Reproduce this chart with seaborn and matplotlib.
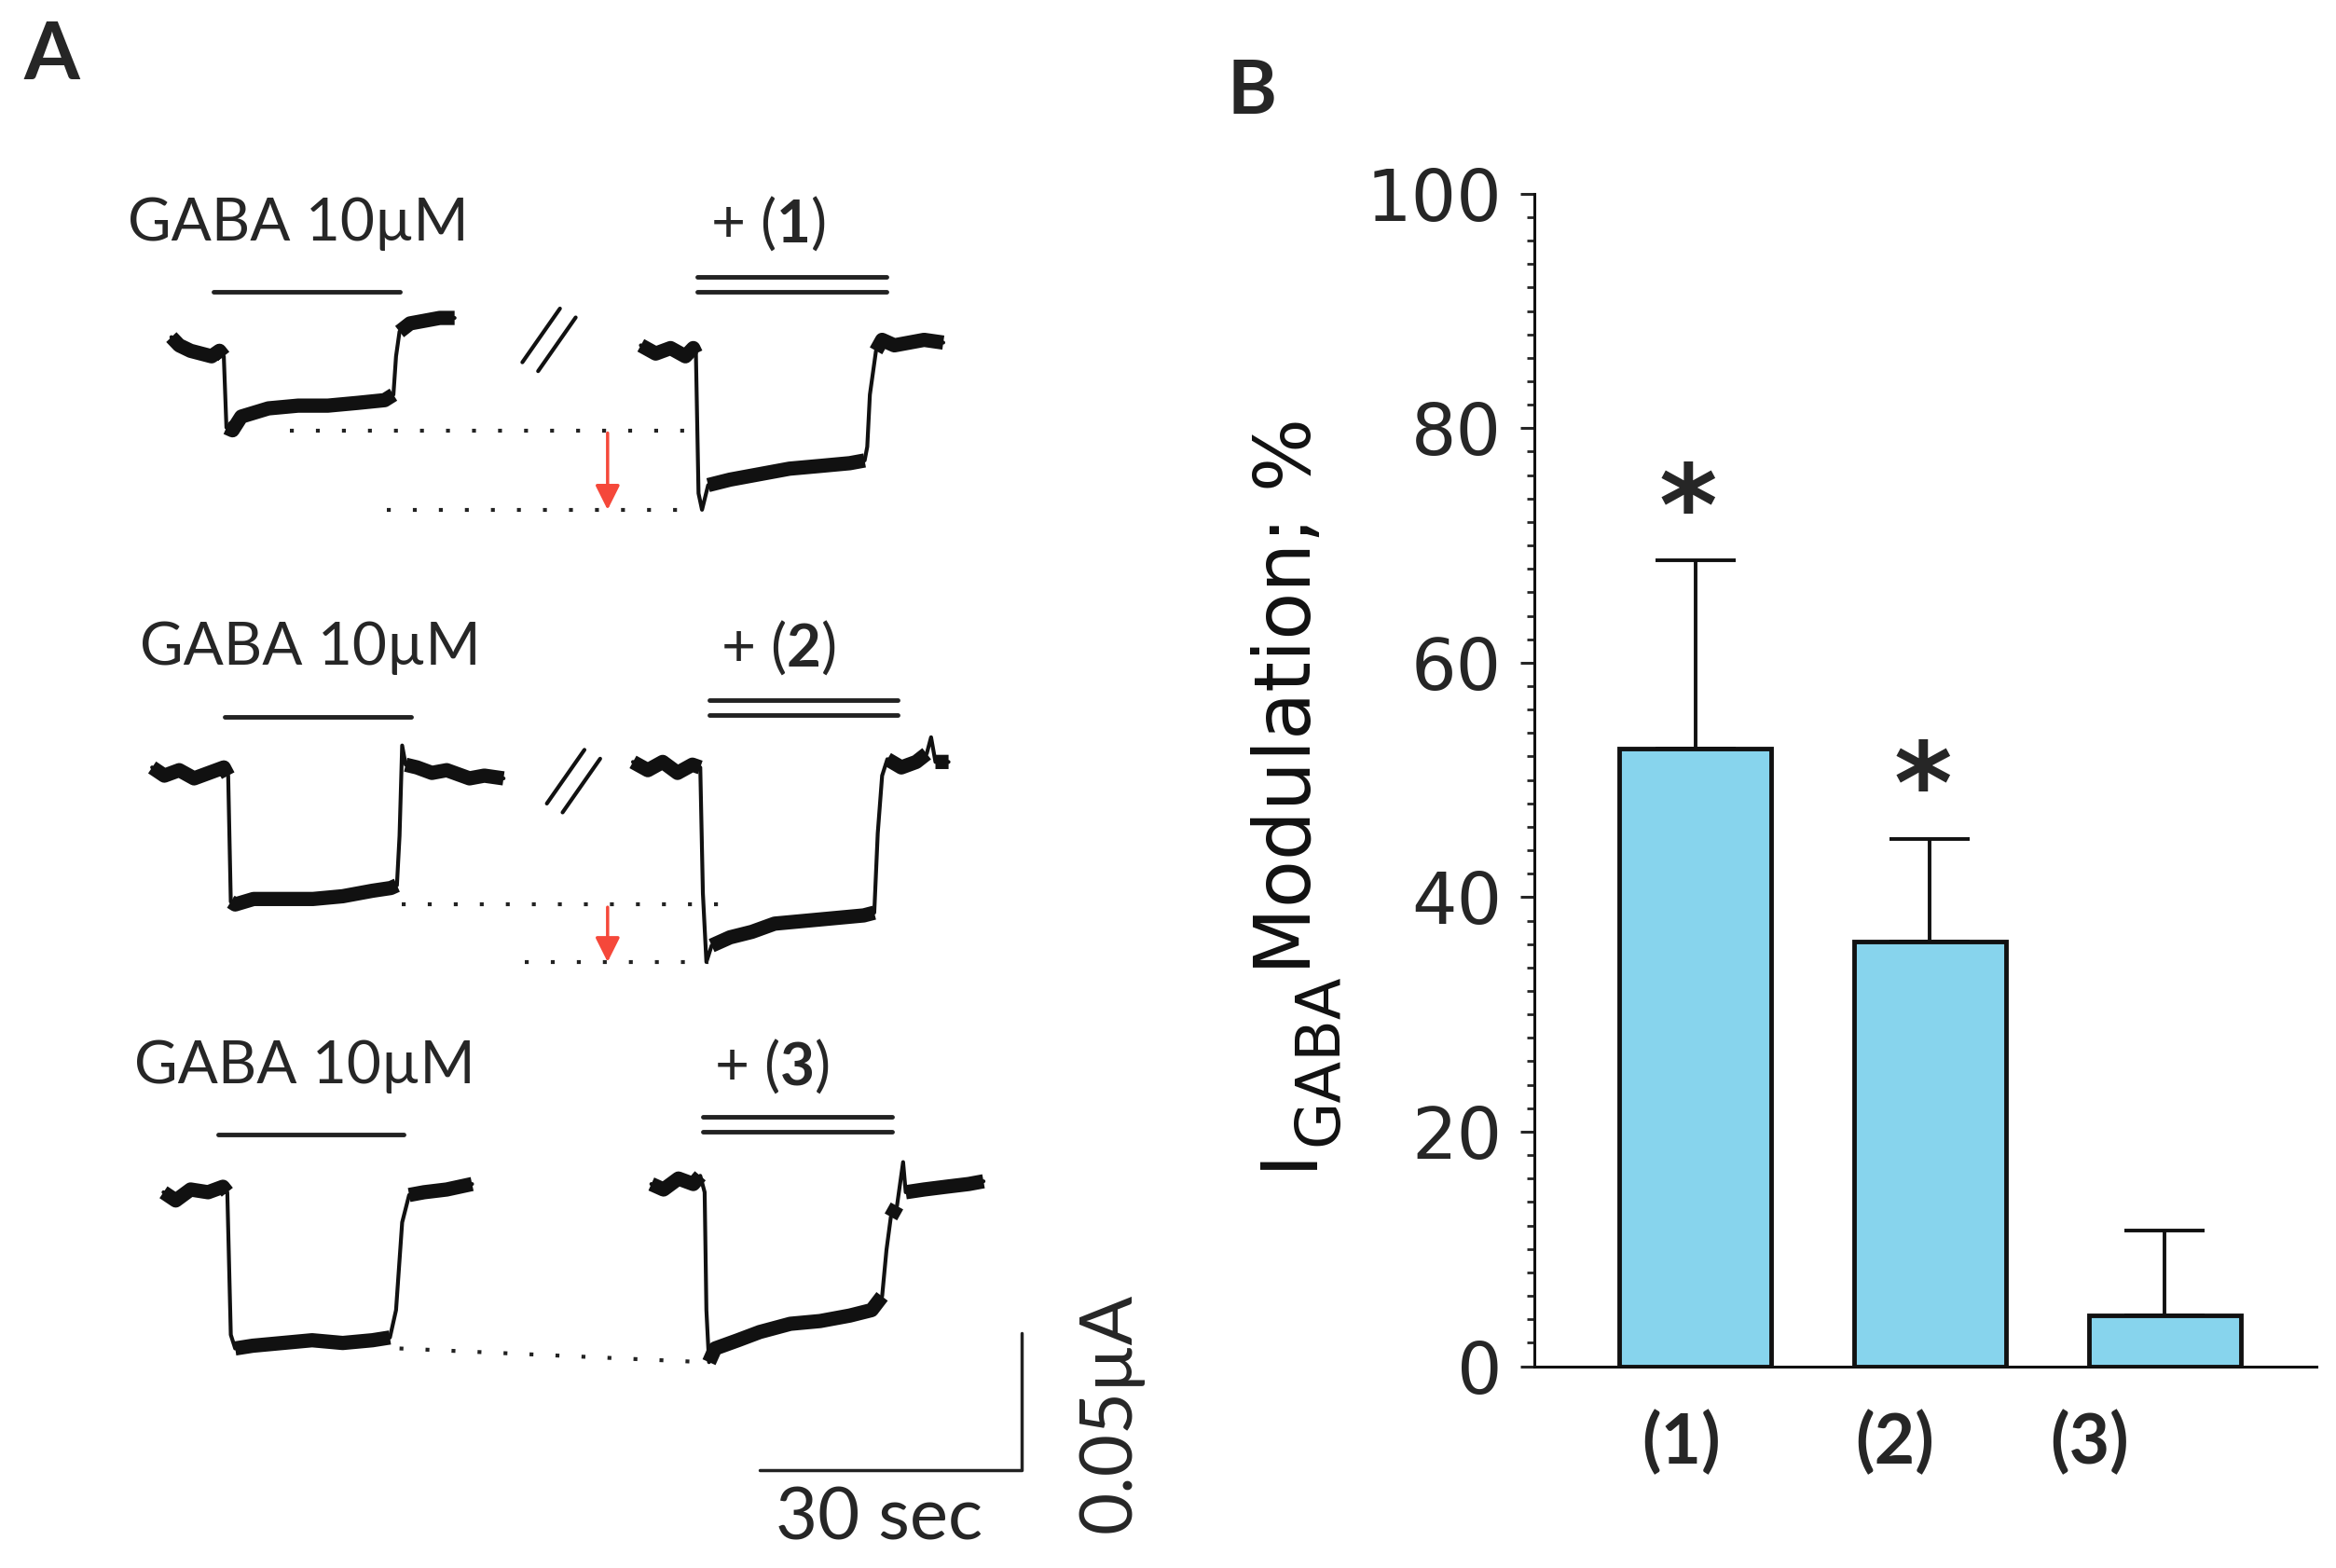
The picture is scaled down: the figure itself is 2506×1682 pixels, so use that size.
import numpy as np
import pandas as pd
import matplotlib.pyplot as plt
import seaborn as sns

sns.set_style("white")
plt.rcParams['font.family'] = ['Lato', 'DejaVu Sans']
plt.rcParams['mathtext.fontset'] = 'custom'
plt.rcParams['mathtext.rm'] = 'Lato'
plt.rcParams['mathtext.bf'] = 'Lato:bold'
plt.rcParams['mathtext.it'] = 'Lato:italic'

# ----------------------------
# Panel B data (% modulation of I_GABA, mean + SEM)
# ----------------------------
compounds = ["(1)", "(2)", "(3)"]
modulation = [52.7, 36.2, 4.3]
modulation_sem = [16.0, 8.8, 7.3]
significant = [True, True, False]

# ----------------------------
# Panel A traces: time (s) from sweep start, current (uA) relative to baseline
# ----------------------------
t_ctrl_1 = [0.0, 0.9, 2.2, 3.4, 4.6, 5.5, 6.0, 6.3, 7.0, 8.0, 11.1, 14.5, 17.9, 21.3, 24.4, 25.4, 25.7, 26.1, 27.3, 29.0, 30.7, 32.4]
i_ctrl_1 = [0.003, 0.000, -0.002, -0.003, -0.004, -0.002, -0.004, -0.030, -0.031, -0.026, -0.023, -0.022, -0.022, -0.021, -0.020, -0.018, -0.004, 0.005, 0.008, 0.009, 0.010, 0.010]
t_drug_1 = [0.0, 1.7, 3.4, 5.1, 6.0, 6.3, 6.6, 7.0, 7.7, 10.2, 13.6, 17.0, 20.5, 23.9, 25.6, 25.9, 26.2, 26.9, 27.6, 29.0, 30.7, 32.4, 34.6]
i_drug_1 = [0.002, -0.001, 0.001, -0.002, 0.001, -0.001, -0.052, -0.058, -0.049, -0.047, -0.045, -0.043, -0.042, -0.041, -0.040, -0.035, -0.016, 0.000, 0.004, 0.002, 0.003, 0.004, 0.003]

t_ctrl_2 = [0.0, 1.4, 3.1, 4.8, 6.5, 8.2, 8.7, 9.0, 9.5, 11.6, 15.0, 18.4, 21.8, 25.2, 27.3, 28.0, 28.3, 28.6, 29.0, 30.3, 32.0, 33.7, 36.3, 38.0, 40.2]
i_ctrl_2 = [0.002, -0.001, 0.001, -0.002, 0.000, 0.002, -0.001, -0.047, -0.048, -0.046, -0.046, -0.046, -0.045, -0.043, -0.042, -0.041, -0.023, 0.010, 0.003, 0.002, 0.000, 0.001, -0.002, -0.001, -0.002]
t_drug_2 = [0.0, 1.7, 3.4, 5.1, 6.8, 7.7, 8.0, 8.4, 9.0, 11.1, 13.6, 16.2, 19.6, 23.0, 26.4, 27.6, 28.0, 28.5, 29.1, 30.7, 32.4, 33.6, 34.1, 34.6, 36.1]
i_drug_2 = [0.002, -0.001, 0.002, -0.002, 0.001, 0.000, -0.046, -0.071, -0.065, -0.062, -0.060, -0.057, -0.056, -0.055, -0.054, -0.053, -0.024, -0.003, 0.003, 0.000, 0.002, 0.005, 0.011, 0.002, 0.002]

t_ctrl_3 = [0.0, 1.4, 3.1, 5.1, 6.8, 7.3, 7.7, 8.2, 10.2, 13.6, 17.0, 20.5, 23.9, 25.9, 26.6, 27.3, 28.1, 29.8, 32.4, 35.3]
i_ctrl_3 = [0.000, -0.003, 0.001, 0.000, 0.002, 0.000, -0.052, -0.057, -0.056, -0.055, -0.054, -0.055, -0.054, -0.053, -0.043, -0.011, -0.001, 0.000, 0.001, 0.003]
t_drug_3 = [0.0, 1.4, 3.1, 4.8, 5.6, 6.1, 6.3, 6.6, 7.3, 9.9, 12.4, 15.9, 19.3, 22.7, 25.2, 26.4, 26.9, 27.4, 28.1, 28.8, 29.1, 31.2, 33.7, 36.3, 38.0]
i_drug_3 = [0.001, -0.001, 0.003, 0.001, 0.004, -0.002, -0.045, -0.064, -0.059, -0.056, -0.053, -0.050, -0.049, -0.047, -0.045, -0.040, -0.023, -0.011, -0.007, 0.009, -0.002, -0.001, 0.000, 0.001, 0.002]

ctrl_traces = [(t_ctrl_1, i_ctrl_1), (t_ctrl_2, i_ctrl_2), (t_ctrl_3, i_ctrl_3)]
drug_traces = [(t_drug_1, i_drug_1), (t_drug_2, i_drug_2), (t_drug_3, i_drug_3)]

# layout of the sweeps inside panel A (s, uA)
ctrl_x0 = [19.6, 17.4, 18.7]
ctrl_y0 = [-0.126, -0.282, -0.435]
drug_x0 = [73.3, 72.4, 74.5]
drug_y0 = [-0.128, -0.280, -0.433]
gaba_bar_x = [24.4, 25.7, 24.9]
gaba_bar_y = [-0.1065, -0.2614, -0.4141]
drug_bar_x = [79.8, 81.1, 80.4]
drug_bar_y = [-0.1038, -0.2582, -0.4103]
label_y = [-0.0815, -0.2364, -0.389]
gaba_label_x = [34.1, 35.5, 34.9]
drug_label_x = [87.8, 89.0, 88.3]
break_x = [62.8, 65.6]
break_y = [-0.124, -0.285]
ctrl_level_x = [33.2, 46.0, 45.7]
drug_level_x = [44.3, 60.0, None]
level_end_x = [78.4, 83.5, 80.6]
arrow_x = [69.5, 69.5]

# ----------------------------
# Figure
# ----------------------------
fig = plt.figure(figsize=(25.06, 16.82), dpi=100)

# ---- Panel A
axA = fig.add_axes([0, 0, 0.5, 1])
axA.set_xlim(0, 133.6)
axA.set_ylim(-0.5721, 0)
axA.axis('off')

px_s = 9.376    # axis pixels per second
px_ua = 2940.0  # axis pixels per uA


def draw_trace(ax, t, i, x0, y0):
    t = np.array(t) + x0
    i = np.array(i) + y0
    ax.plot(t, i, color='#111111', lw=3, solid_joinstyle='round')
    # noisy (flat) parts drawn as a thicker band, broken at the fast steps
    xs, ys = [], []
    for k in range(len(t) - 1):
        dx = abs(t[k + 1] - t[k]) * px_s
        dy = abs(i[k + 1] - i[k]) * px_ua
        if dy < 3 * dx:
            if not xs or np.isnan(xs[-1]):
                xs.append(t[k])
                ys.append(i[k])
            xs.append(t[k + 1])
            ys.append(i[k + 1])
        elif xs and not np.isnan(xs[-1]):
            xs.append(np.nan)
            ys.append(np.nan)
    ax.plot(xs, ys, color='#111111', lw=11, solid_capstyle='butt', solid_joinstyle='round')
    return i.min()


mins_ctrl, mins_drug = [], []
for r in range(3):
    mins_ctrl.append(draw_trace(axA, *ctrl_traces[r], ctrl_x0[r], ctrl_y0[r]))
    mins_drug.append(draw_trace(axA, *drug_traces[r], drug_x0[r], drug_y0[r]))

    # application bars
    axA.plot([gaba_bar_x[r], gaba_bar_x[r] + 21.3], [gaba_bar_y[r]] * 2, color='#222222', lw=3.5)
    for off in (-0.0027, 0.0027):
        axA.plot([drug_bar_x[r], drug_bar_x[r] + 21.6], [drug_bar_y[r] + off] * 2, color='#222222', lw=3.5)

    axA.text(gaba_label_x[r], label_y[r], "GABA 10\u00b5M", fontsize=46, ha='center', va='center')
    axA.text(drug_label_x[r], label_y[r], "+ ($\\mathbf{%d}$)" % (r + 1), fontsize=46, ha='center', va='center')

# peak-level dotted lines and arrows
dot = dict(color='#222222', lw=3, linestyle=(0, (1, 5.7)))
axA.plot([ctrl_level_x[0], level_end_x[0]], [mins_ctrl[0]] * 2, **dot)
axA.plot([drug_level_x[0], level_end_x[0]], [mins_drug[0]] * 2, **dot)
axA.plot([ctrl_level_x[1], level_end_x[1]], [mins_ctrl[1]] * 2, **dot)
axA.plot([drug_level_x[1], level_end_x[1] - 2.5], [mins_drug[1]] * 2, **dot)
axA.plot([ctrl_level_x[2], level_end_x[2]], [mins_ctrl[2], mins_drug[2]], **dot)

for r in range(2):
    axA.annotate("", xy=(arrow_x[r], mins_drug[r]), xytext=(arrow_x[r], mins_ctrl[r] - 0.001),
                 arrowprops=dict(arrowstyle='-|>', color='#f5483a', lw=2.5,
                                 mutation_scale=40, shrinkA=0, shrinkB=0))

# break marks
for bx, by in zip(break_x, break_y):
    for off in (-0.9, 0.9):
        axA.plot([bx + off - 2.15, bx + off + 2.15], [by - 0.0098 - off * 0.0018, by + 0.0098 - off * 0.0018],
                 color='#111111', lw=3)

# scale bar: 30 s x 0.05 uA
sb_x, sb_y = 116.9, -0.5364
axA.plot([sb_x - 30, sb_x, sb_x], [sb_y, sb_y, sb_y + 0.05], color='#222222', lw=2.5)
axA.text(sb_x - 16.3, sb_y - 0.006, "30 sec", fontsize=56, ha='center', va='top')
axA.text(127.0, sb_y + 0.021, "0.05\u00b5A", fontsize=56, ha='center', va='center', rotation=90)

# ---- Panel B
axB = fig.add_axes([0.6568, 0.1287, 0.3349, 0.7478])
df = pd.DataFrame({'compound': compounds, 'modulation': modulation})
sns.barplot(data=df, x='compound', y='modulation', color='#87D4ED', saturation=1,
            edgecolor='#111111', linewidth=3.5, width=0.648, errorbar=None, ax=axB)
axB.errorbar(range(3), modulation, yerr=[np.zeros(3), modulation_sem], fmt='none',
             ecolor='#111111', elinewidth=2.8, capsize=31, capthick=2.8, zorder=1)
for k in range(3):
    if significant[k]:
        axB.text(k - 0.03, modulation[k] + modulation_sem[k] + 4.0, "*", fontsize=86,
                 fontweight='bold', ha='center', va='center', family='DejaVu Sans')

axB.set_xlim(-0.686, 2.648)
axB.set_ylim(0, 100)
axB.set_yticks(np.arange(0, 101, 20))
axB.set_yticks(np.arange(0, 101, 2), minor=True)
axB.set_xticks([-0.06, 0.85, 1.68])
axB.set_xticklabels(compounds, fontsize=54, fontweight='bold')
axB.tick_params(axis='x', length=0, pad=34)
axB.tick_params(axis='y', which='major', length=11, width=2.2, direction='out', pad=14,
                labelsize=55, left=True)
axB.tick_params(axis='y', which='minor', length=6, width=2.0, direction='out', left=True)
for lab in axB.get_yticklabels():
    lab.set_family('DejaVu Sans')
for s in ['top', 'right']:
    axB.spines[s].set_visible(False)
for s in ['left', 'bottom']:
    axB.spines[s].set_linewidth(2.2)
    axB.spines[s].set_color('#111111')
axB.set_xlabel("")
axB.set_ylabel("")

# y label built from pieces so the subscript keeps its size and offset
fig.canvas.draw()
rend = fig.canvas.get_renderer()
lab_x, lab_y = 0.5611, 0.2545
for txt, size, shift in [("I", 60, 0.0), ("GABA", 47, 0.0112), ("Modulation; %", 60, 0.0)]:
    tt = fig.text(lab_x + shift, lab_y, txt, fontsize=size, rotation=90, rotation_mode='anchor',
                  ha='left', va='baseline', family='DejaVu Sans', color='#111111')
    bb = tt.get_window_extent(renderer=rend)
    lab_y = bb.y1 / fig.bbox.height

fig.text(0.022, 0.964, "A", fontsize=62, fontweight='bold', ha='center', va='center')
fig.text(0.536, 0.941, "B", fontsize=58, fontweight='bold', ha='center', va='center')

fig.savefig("out.png", dpi=100, facecolor='white')
